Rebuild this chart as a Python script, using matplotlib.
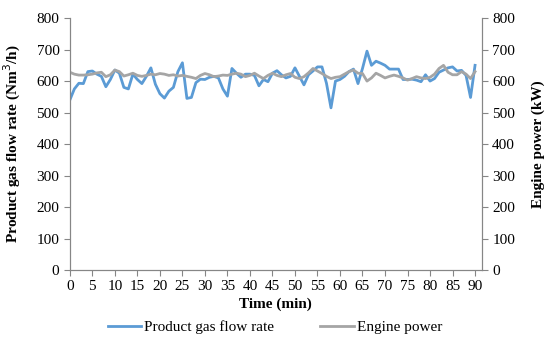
import matplotlib
matplotlib.use('agg')

import numpy as np
import matplotlib.pyplot as plt

# minutes 0..90
time_min = list(range(0, 91))

gas_flow = [540, 575, 593, 592, 630, 632, 622, 615, 582, 605,
            635, 625, 580, 575, 622, 605, 592, 615, 642, 590,
            560, 546, 568, 580, 630, 658, 545, 548, 595, 606,
            605, 612, 615, 610, 575, 552, 640, 625, 612, 622,
            622, 618, 585, 605, 598, 625, 633, 620, 610, 615,
            642, 615, 588, 620, 632, 645, 645, 593, 515, 600,
            605, 615, 630, 638, 592, 640, 695, 650, 663, 657,
            650, 638, 638, 638, 605, 605, 606, 603, 598, 620,
            600, 608, 628, 635, 642, 645, 632, 634, 618, 548,
            650]

engine_power = [628, 622, 619, 619, 620, 622, 626, 628, 614, 620,
                635, 630, 616, 620, 625, 618, 615, 618, 622, 620,
                624, 622, 618, 620, 616, 618, 615, 612, 608, 618,
                624, 620, 614, 616, 619, 618, 622, 625, 622, 614,
                618, 625, 616, 608, 618, 625, 618, 614, 620, 624,
                612, 608, 614, 626, 640, 632, 624, 615, 608, 612,
                614, 622, 630, 635, 625, 624, 600, 610, 625, 618,
                610, 615, 619, 615, 610, 603, 608, 614, 610, 608,
                612, 622, 640, 650, 628, 620, 620, 630, 622, 608,
                630]

x_ticks = list(range(0, 91, 5))
y_ticks = list(range(0, 801, 100))

plt.rcParams['font.family'] = ['Liberation Serif', 'DejaVu Serif']
plt.rcParams['font.size'] = 11

blue = '#5b9bd5'
grey = '#a5a5a5'
axis_col = '#868686'

fig = plt.figure(figsize=(5.5, 3.41), dpi=100)
ax = fig.add_axes([0.127, 0.208, 0.749, 0.739])
ax2 = ax.twinx()

l1, = ax.plot(time_min, gas_flow, color=blue, lw=2.0, label='Product gas flow rate')
l2, = ax2.plot(time_min, engine_power, color=grey, lw=2.0, label='Engine power')

for a in (ax, ax2):
  a.set_ylim(0, 800)
  a.set_yticks(y_ticks)
  a.spines['top'].set_visible(False)
  for s in ('left', 'right', 'bottom'):
    a.spines[s].set_color(axis_col)
  a.tick_params(colors=axis_col, labelcolor='black', length=4, labelsize=11)

ax.set_xlim(0, 91.5)
ax.set_xticks(x_ticks)
ax.set_ylabel('Product gas flow rate (Nm$^3$/h)', fontweight='bold', fontsize=11)
ax2.set_ylabel('Engine power (kW)', fontweight='bold', fontsize=11)
ax.yaxis.set_label_coords(-0.114, 0.5)
ax2.yaxis.set_label_coords(1.12, 0.5)
ax.set_xlabel('Time (min)', fontweight='bold', fontsize=11, labelpad=3)

fig.legend(handles=[l1, l2], loc='lower center', bbox_to_anchor=(0.5, -0.02),
           ncol=2, frameon=False, fontsize=11, handlelength=2.2, columnspacing=3.0,
           handletextpad=0.2)

fig.savefig('out.png', dpi=100)
